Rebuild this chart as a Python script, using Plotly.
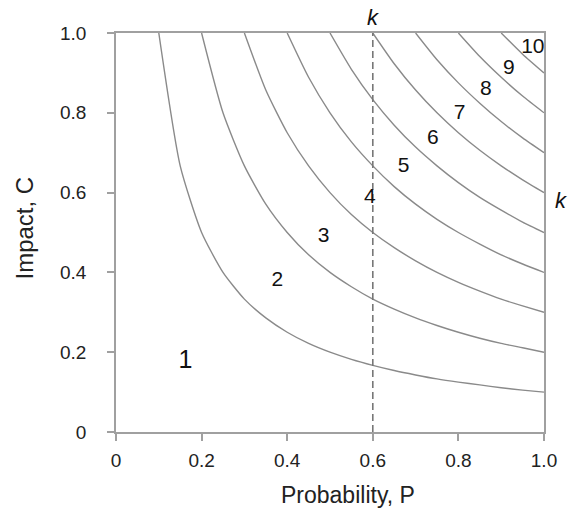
import plotly.graph_objects as go

# Iso-risk curves (Impact C read at Probability P grid points) for k = 0.1 ... 0.9
p_grid = [0.10, 0.15, 0.20, 0.25, 0.30, 0.35, 0.40, 0.45, 0.50, 0.55,
          0.60, 0.65, 0.70, 0.75, 0.80, 0.85, 0.90, 0.95, 1.00]

curve_k01 = [1.000, 0.667, 0.500, 0.400, 0.333, 0.286, 0.250, 0.222, 0.200, 0.182,
             0.167, 0.154, 0.143, 0.133, 0.125, 0.118, 0.111, 0.105, 0.100]
curve_k02 = [1.000, 0.800, 0.667, 0.571, 0.500, 0.444, 0.400, 0.364, 0.333, 0.308,
             0.286, 0.267, 0.250, 0.235, 0.222, 0.211, 0.200]
curve_k03 = [1.000, 0.857, 0.750, 0.667, 0.600, 0.545, 0.500, 0.462, 0.429, 0.400,
             0.375, 0.353, 0.333, 0.316, 0.300]
curve_k04 = [1.000, 0.889, 0.800, 0.727, 0.667, 0.615, 0.571, 0.533, 0.500, 0.471,
             0.444, 0.421, 0.400]
curve_k05 = [1.000, 0.909, 0.833, 0.769, 0.714, 0.667, 0.625, 0.588, 0.556, 0.526, 0.500]
curve_k06 = [1.000, 0.923, 0.857, 0.800, 0.750, 0.706, 0.667, 0.632, 0.600]
curve_k07 = [1.000, 0.933, 0.875, 0.824, 0.778, 0.737, 0.700]
curve_k08 = [1.000, 0.941, 0.889, 0.842, 0.800]
curve_k09 = [1.000, 0.947, 0.900]

curves = [curve_k01, curve_k02, curve_k03, curve_k04, curve_k05,
          curve_k06, curve_k07, curve_k08, curve_k09]

# Region labels
region_labels = ["1", "2", "3", "4", "5", "6", "7", "8", "9", "10"]
region_p = [0.162, 0.377, 0.485, 0.593, 0.672, 0.740, 0.803, 0.864, 0.918, 0.974]
region_c = [0.175, 0.378, 0.489, 0.586, 0.664, 0.734, 0.797, 0.857, 0.910, 0.962]
region_size = [25, 21, 21, 21, 21, 21, 21, 21, 21, 21]

# Dashed reference line at P = 0.6
ref_p = [0.6, 0.6]
ref_c = [0.0, 1.0]

# Axis ticks
tick_vals = [0, 0.2, 0.4, 0.6, 0.8, 1.0]
tick_text = ["0", "0.2", "0.4", "0.6", "0.8", "1.0"]

FONT = "Liberation Sans, Arial, sans-serif"

fig = go.Figure()

for c in curves:
    p = p_grid[len(p_grid) - len(c):]
    fig.add_trace(go.Scatter(x=p, y=c, mode="lines",
                             line=dict(color="#8a8a8a", width=1.4, shape="spline", smoothing=0.6),
                             hoverinfo="skip", showlegend=False))

fig.add_trace(go.Scatter(x=ref_p, y=ref_c, mode="lines",
                         line=dict(color="#777777", width=1.6, dash="7px,4px"),
                         showlegend=False, hoverinfo="skip"))

fig.add_trace(go.Scatter(x=region_p, y=region_c, mode="text", text=region_labels,
                         textfont=dict(family=FONT, size=region_size, color="#111111"),
                         cliponaxis=False, showlegend=False, hoverinfo="skip"))

fig.add_annotation(x=0.6, y=1.0, xref="x", yref="y", text="<i>k</i>", showarrow=False,
                   yanchor="bottom", yshift=1,
                   font=dict(family=FONT, size=22, color="#111111"))
fig.add_annotation(x=1.0, y=0.579, xref="x", yref="y", text="<i>k</i>", showarrow=False,
                   xanchor="center", xshift=17,
                   font=dict(family=FONT, size=22, color="#111111"))

# Axis titles
fig.add_annotation(x=0.542, y=0, xref="paper", yref="paper", text="Probability, P",
                   showarrow=False, yanchor="middle", yshift=-63,
                   font=dict(family=FONT, size=23, color="#222222"))
fig.add_annotation(x=0, y=0.51, xref="paper", yref="paper", text="Impact, C",
                   showarrow=False, textangle=-90, xanchor="center", xshift=-91,
                   font=dict(family=FONT, size=24, color="#222222"))

axis_common = dict(range=[0, 1.0], tickvals=tick_vals, ticktext=tick_text,
                   showgrid=False, zeroline=False, showline=True, linecolor="#a0a0a0",
                   linewidth=1.5, mirror=True, ticks="outside", ticklen=7,
                   tickcolor="#a0a0a0", tickwidth=1.5,
                   tickfont=dict(family=FONT, size=19, color="#222222"))

fig.update_xaxes(**axis_common, ticklabelstandoff=3)
fig.update_yaxes(**axis_common, ticklabelstandoff=17)

fig.update_layout(width=570, height=510, plot_bgcolor="white", paper_bgcolor="white",
                  margin=dict(l=116, r=26, t=33, b=78, autoexpand=False))

fig.write_html("out.html",
               config={"displayModeBar": False},
               post_script="document.body.style.margin='0px';document.body.style.overflow='hidden';")
